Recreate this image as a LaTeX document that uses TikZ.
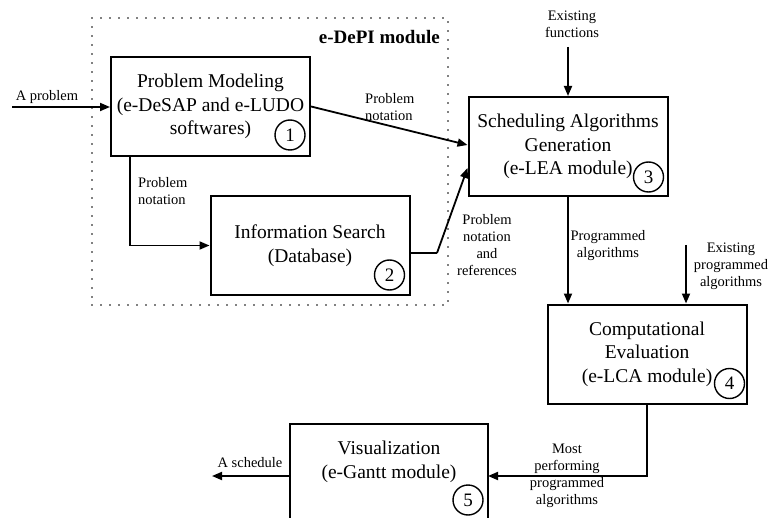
\documentclass[tikz,border=0pt]{standalone}
\usepackage{fontspec}
\setmainfont{Liberation Serif}
\usetikzlibrary{arrows.meta}

\begin{document}
\begin{tikzpicture}[x=1pt,y=-1pt,
  box/.style={draw, line width=2pt, minimum width=199pt, minimum height=99pt,
    inner sep=0pt, align=center, font=\fontsize{19.5}{23.5}\selectfont},
  boxtext/.style={inner sep=0pt, align=center, font=\fontsize{19.5}{23.5}\selectfont},
  num/.style={draw, circle, line width=1.4pt, minimum size=30pt, inner sep=0pt,
    font=\fontsize{19}{19}\selectfont},
  lbl/.style={inner sep=0pt, align=center, font=\fontsize{14.5}{17}\selectfont},
  arr/.style={-{Triangle[length=10pt,width=8pt]}, line width=1.8pt},
  wire/.style={line width=1.8pt},
  frame/.style={draw, line width=1.8pt, dash pattern=on 0pt off 9pt, line cap=round,
    minimum width=356pt, minimum height=287pt, inner sep=0pt}
]
\useasboundingbox (0,0) rectangle (770,518);
\clip (0,0) rectangle (770,518);

% e-DePI module frame
\node[frame] (depi) at (270,161.5) {};
\node[anchor=east, inner sep=0pt, font=\bfseries\fontsize{19}{19}\selectfont] (depititle) at (440,37) {e-DePI module};

% process boxes
\node[box] (b1) at (210.5,106.5) {Problem Modeling\\(e-DeSAP and e-LUDO\\softwares)};
\node[box] (b2) at (310,245.5) {Information Search\\(Database)};
\node[box] (b3) at (568,146.5) {Scheduling Algorithms\\Generation\\(e-LEA module)};
\node[box] (b4) at (647,354) {Computational\\Evaluation\\(e-LCA module)};
\node[box, minimum width=198pt, minimum height=176pt] (b5) at (389,512) {};
\node[boxtext] (b5t) at (389,462) {Visualization\\(e-Gantt module)};

% step numbers
\node[num] (n1) at ([shift={(-21pt,22pt)}]b1.south east) {1};
\node[num] (n2) at ([shift={(-21pt,21pt)}]b2.south east) {2};
\node[num] (n3) at ([shift={(-20pt,20pt)}]b3.south east) {3};
\node[num] (n4) at ([shift={(-18pt,21pt)}]b4.south east) {4};
\node[num] (n5) at (468,500) {5};

% free ends and bends
\coordinate (inA) at (12,107);
\coordinate (ef) at (568,47);
\coordinate (epa) at (686,245);
\coordinate (k2) at (437,253);
\coordinate (out) at (212,476);
\coordinate (j5) at (488,476);

% connectors
\draw[arr] (inA) -- (b1.west |- inA);
\draw[arr] ([xshift=20pt]b1.south west) |- (b2.west);
\draw[arr] (b1.east) -- (b3.west |- 0,145);
\draw[wire] (b2.east |- k2) -- (k2);
\draw[arr] (k2) -- (b3.west |- 0,168);
\draw[arr] (ef) -- (b3.north);
\draw[arr] (b3.south) -- (b3.south |- b4.north);
\draw[arr] (epa) -- (epa |- b4.north);
\draw[arr] (b4.south) |- (j5);
\draw[arr] (b5.west |- out) -- (out);

% connector labels
\node[lbl] (lA) at (47,97) {A problem};
\node[lbl, anchor=west, align=left] (l12) at (138,191.5) {Problem\\notation};
\node[lbl, anchor=west, align=left] (l13) at (365,107) {Problem\\notation};
\node[lbl] (l23) at (487,245.5) {Problem\\notation\\and\\references};
\node[lbl] (lef) at (572,24.5) {Existing\\functions};
\node[lbl] (l34) at (608,245.5) {Programmed\\algorithms};
\node[lbl] (lepa) at (731,266.5) {Existing\\programmed\\algorithms};
\node[lbl] (l45) at (567,476) {Most\\performing\\programmed\\algorithms};
\node[lbl] (lout) at (250,463) {A schedule};
\end{tikzpicture}
\end{document}
